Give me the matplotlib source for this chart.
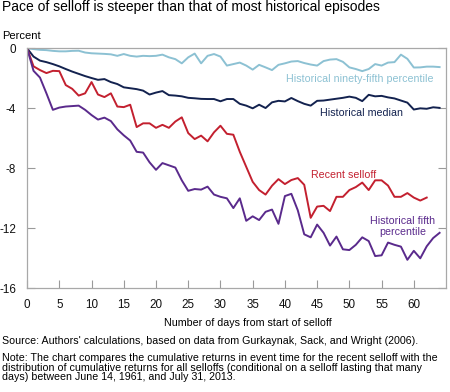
import matplotlib
matplotlib.use("Agg")
import matplotlib.pyplot as plt
import numpy as np

plt.rcParams["font.family"] = ["Liberation Sans", "DejaVu Sans"]

# ── Data (cumulative returns, percent, by day from start of selloff) ─────────
p95 = [0, -0.05, -0.1, -0.12, -0.17, -0.2, -0.2, -0.17, -0.16, -0.28,
       -0.33, -0.35, -0.37, -0.4, -0.5, -0.38, -0.5, -0.55, -0.5, -0.52,
       -0.5, -0.42, -0.6, -0.72, -1.0, -0.6, -0.35, -1.0, -0.5, -0.38,
       -0.55, -1.15, -1.05, -0.95, -1.15, -1.42, -1.1, -1.27, -1.45, -1.1,
       -1.0, -0.88, -0.85, -0.98, -1.08, -1.15, -0.85, -0.75, -0.72, -0.9,
       -1.27, -1.38, -1.52, -1.38, -1.05, -1.15, -0.95, -0.92, -0.42, -0.7,
       -1.28, -1.27, -1.22, -1.22, -1.25]

median = [0, -0.55, -0.82, -0.92, -1.05, -1.2, -1.38, -1.55, -1.7, -1.85,
          -1.98, -2.1, -2.05, -2.25, -2.38, -2.6, -2.66, -2.72, -2.82, -3.08,
          -2.95, -2.85, -3.12, -3.15, -3.2, -3.3, -3.33, -3.37, -3.38, -3.38,
          -3.53, -3.38, -3.38, -3.7, -3.82, -4.0, -3.76, -3.98, -3.6, -3.5,
          -3.54, -3.31, -3.52, -3.7, -3.82, -3.5, -3.48, -3.42, -3.36, -3.3,
          -3.22, -3.3, -3.52, -3.1, -3.2, -3.17, -3.27, -3.34, -3.48, -3.62,
          -4.08, -4.0, -4.03, -3.93, -3.97]

recent = [0, -1.2, -1.45, -1.65, -1.5, -1.52, -2.45, -2.7, -3.15, -3.0,
          -2.25, -3.08, -3.25, -3.0, -3.88, -3.92, -3.76, -5.25, -5.0, -5.0,
          -5.3, -5.1, -5.3, -4.88, -4.6, -5.65, -6.05, -5.82, -6.2, -5.6,
          -5.16, -5.7, -5.76, -6.9, -7.9, -8.9, -9.45, -9.75, -9.16, -8.72,
          -9.05, -8.78, -8.65, -9.1, -11.3, -10.55, -10.5, -10.85, -9.9, -9.9,
          -9.45, -9.25, -8.95, -9.45, -8.8, -8.8, -9.15, -9.9, -9.9, -9.65,
          -9.95, -10.15, -9.95]

p5 = [0, -1.5, -1.95, -3.0, -4.1, -3.95, -3.88, -3.85, -3.82, -4.1,
      -4.45, -4.75, -4.62, -4.85, -5.4, -5.8, -6.15, -6.9, -6.95, -7.6,
      -8.1, -7.65, -7.8, -7.95, -8.8, -9.5, -9.38, -9.42, -9.22, -9.75,
      -9.9, -10.0, -10.65, -10.0, -11.5, -11.2, -11.45, -10.9, -10.75, -11.7,
      -9.85, -9.7, -10.8, -12.4, -12.6, -11.75, -12.3, -13.15, -12.55, -13.4,
      -13.45, -13.1, -12.6, -12.85, -13.85, -13.8, -12.95, -13.1, -13.22, -14.1,
      -13.5, -14.0, -13.2, -12.65, -12.3]

x_ticks = [0, 5, 10, 15, 20, 25, 30, 35, 40, 45, 50, 55, 60]
y_ticks = [0, -4, -8, -12, -16]
y_labels = ["0", "-4", "-8", "-12", "-16"]

note_lines = [
    "Note: The chart compares the cumulative returns in event time for the recent selloff with the",
    "distribution of cumulative returns for all selloffs (conditional on a selloff lasting that many",
    "days) between June 14, 1961, and July 31, 2013.",
]

C95 = "#8cc1d3"
CMED = "#13224f"
CREC = "#c3202f"
C5 = "#5a2a8c"

H = 392.0  # figure height in px, for placing text by baseline

fig = plt.figure(figsize=(4.5, 3.92), dpi=100)
ax = fig.add_axes([0.0602, 0.2645, 0.931, 0.6122])

ax.plot(np.arange(len(p95)), p95, color=C95, lw=1.4)
ax.plot(np.arange(len(median)), median, color=CMED, lw=1.4)
ax.plot(np.arange(len(recent)), recent, color=CREC, lw=1.4)
ax.plot(np.arange(len(p5)), p5, color=C5, lw=1.4)

ax.set_xlim(0, 65)
ax.set_ylim(-16, 0)
ax.set_xticks(x_ticks)
ax.set_xticklabels([str(t) for t in x_ticks])
ax.set_yticks(y_ticks)
ax.set_yticklabels(y_labels)
ax.tick_params(axis="both", direction="in", length=5.5, width=0.8,
               color="#9a9a9a", labelsize=8.4, pad=8, labelcolor="#111111")
ax.tick_params(axis="y", right=True)
for s in ax.spines.values():
    s.set_color("#a8a8a8")
    s.set_linewidth(0.9)

# series labels
ax.text(51.6, -2.07, "Historical ninety-fifth percentile", color=C95,
        fontsize=7.7, ha="center", va="center")
ax.text(51.9, -4.33, "Historical median", color=CMED,
        fontsize=7.7, ha="center", va="center")
ax.text(49.1, -8.45, "Recent selloff", color=CREC,
        fontsize=7.7, ha="center", va="center")
ax.text(58.3, -11.88, "Historical fifth\npercentile", color=C5,
        fontsize=7.7, ha="center", va="center", linespacing=1.05)

fig.text(0.004, 1 - 11.5 / H, "Pace of selloff is steeper than that of most historical episodes",
         fontsize=10, ha="left", va="baseline")
fig.text(0.004, 1 - 39.3 / H, "Percent", fontsize=8, ha="left", va="baseline")
fig.text(0.551, 1 - 325.7 / H, "Number of days from start of selloff", fontsize=7.7,
         ha="center", va="baseline")
fig.text(0.004, 1 - 343.8 / H,
         "Source: Authors' calculations, based on data from Gurkaynak, Sack, and Wright (2006).",
         fontsize=7.7, ha="left", va="baseline")
for i, line in enumerate(note_lines):
    fig.text(0.004, 1 - (361.0 + 9.6 * i) / H, line, fontsize=7.7,
             ha="left", va="baseline")

fig.savefig("out.png", dpi=100)
